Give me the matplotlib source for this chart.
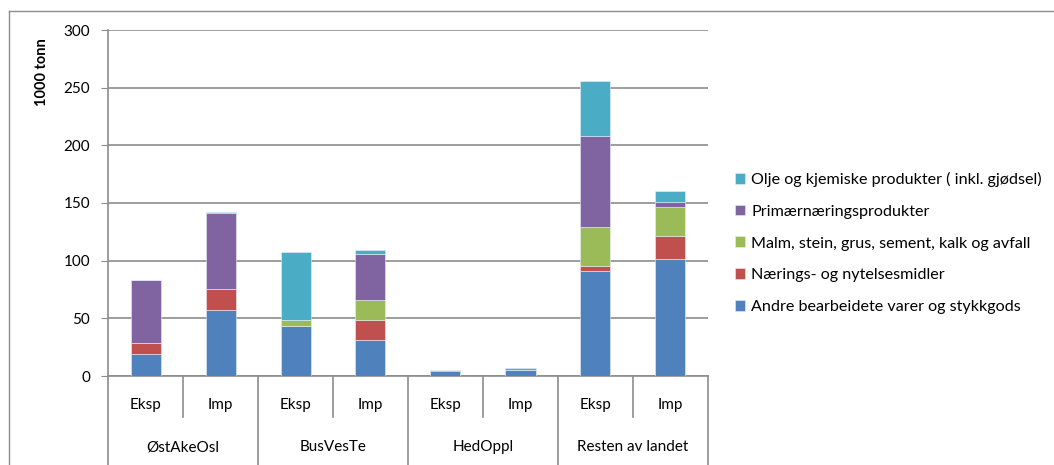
import matplotlib.pyplot as plt
from matplotlib.lines import Line2D
import numpy as np

plt.rcParams['font.family'] = ['Lato', 'DejaVu Sans']

regions = ['ØstAkeOsl', 'BusVesTe', 'HedOppl', 'Resten av landet']
flows = ['Eksp', 'Imp']

# tonnes (1000) per bar, order: ØstAkeOsl Eksp/Imp, BusVesTe Eksp/Imp, HedOppl Eksp/Imp, Resten Eksp/Imp
andre = [19, 57, 43, 31.6, 4, 5.2, 91, 101.6]
naerings = [10, 18.5, 0, 17.1, 1.2, 0, 4.7, 19.7]
malm = [0, 0, 5.8, 17.6, 0, 0, 33.6, 25.2]
primaer = [54, 65.4, 0, 39.7, 0, 0, 79, 4.4]
olje = [0, 1.2, 58.7, 2.9, 0, 1.5, 47.5, 9.3]

series = [
    ('Andre bearbeidete varer og stykkgods', andre, '#4F81BD'),
    ('Nærings- og nytelsesmidler', naerings, '#C0504D'),
    ('Malm, stein, grus, sement, kalk og avfall', malm, '#9BBB59'),
    ('Primærnæringsprodukter', primaer, '#8064A2'),
    ('Olje og kjemiske produkter ( inkl. gjødsel)', olje, '#4BACC6'),
]

W, H = 1054, 465
fig = plt.figure(figsize=(W / 100, H / 100), dpi=100)
ax = fig.add_axes([108 / W, 1 - 376 / H, 600 / W, 346 / H])

x = np.arange(len(andre))
bottom = np.zeros(len(x))
handles = []
for name, vals, col in series:
    vals = np.array(vals, dtype=float)
    b = ax.bar(x, vals, 0.4, bottom=bottom, color=col, edgecolor='#e8eef6',
               linewidth=0.4, label=name, zorder=3)
    handles.append(b)
    bottom += vals

ax.set_xlim(-0.5, len(x) - 0.5)
ax.set_ylim(0, 300)
ax.set_yticks(range(0, 301, 50))
ax.yaxis.grid(True, color='#8c8c8c', linewidth=1.2, zorder=0)
ax.tick_params(axis='y', length=5, color='#8c8c8c', labelsize=11, pad=8)
ax.tick_params(axis='x', length=0, labelbottom=False)
for s in ['top', 'right']:
    ax.spines[s].set_visible(False)
for s in ['left', 'bottom']:
    ax.spines[s].set_color('#8c8c8c')
    ax.spines[s].set_linewidth(1.2)

fig.text(42 / W, 1 - 72 / H, '1000 tonn', rotation=90, fontsize=10.5,
         fontweight='bold', ha='center', va='center')

# two-level category axis
def fx(px):
    return px / W

def fy(py):
    return 1 - py / H

cat_w = 600 / len(x)
for i in range(len(x) + 1):
    px = 108 + i * cat_w
    end = 465 if i % 2 == 0 else 417
    fig.add_artist(Line2D([fx(px), fx(px)], [fy(376), fy(end)], color='#8c8c8c', lw=1.2))
for i in range(len(x)):
    fig.text(fx(108 + (i + 0.5) * cat_w), fy(405), flows[i % 2], fontsize=11,
             ha='center', va='center')
for j, r in enumerate(regions):
    fig.text(fx(108 + (2 * j + 1) * cat_w), fy(447), r, fontsize=11,
             ha='center', va='center')

# outer chart border
fig.add_artist(Line2D([fx(9), fx(9)], [fy(11), 0], color='#8c8c8c', lw=1))
fig.add_artist(Line2D([fx(9), 1], [fy(11), fy(11)], color='#8c8c8c', lw=1))

fig.legend(handles[::-1], [s[0] for s in series][::-1], loc='center left',
           bbox_to_anchor=(720 / W, 1 - 243 / H), frameon=False, fontsize=11.6,
           handlelength=0.65, handleheight=0.65, handletextpad=0.4, labelspacing=1.1)

fig.savefig('out.png', dpi=100)
